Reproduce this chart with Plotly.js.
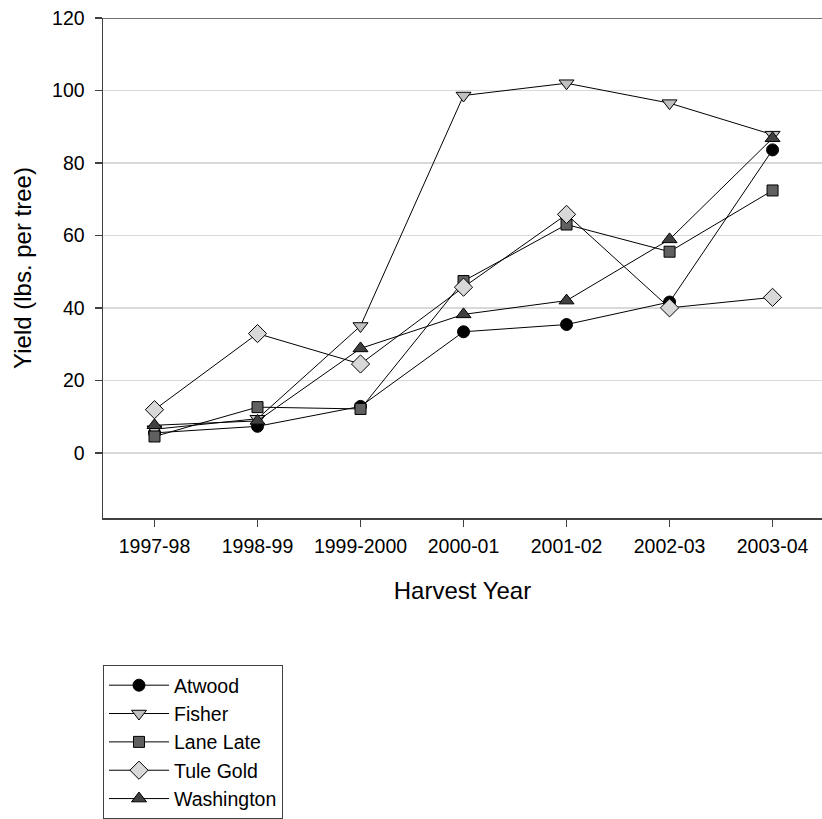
<!DOCTYPE html>
<html>
<head>
<meta charset="utf-8">
<script src="https://cdn.plot.ly/plotly-3.0.1.min.js"></script>
<style>html,body{margin:0;padding:0;background:#fff;}#chart{width:822px;height:819px;}</style>
</head>
<body>
<div id="chart"></div>
<script>
const harvestYears = ["1997-98", "1998-99", "1999-2000", "2000-01", "2001-02", "2002-03", "2003-04"];
const atwood     = [5.5, 7.3, 12.8, 33.4, 35.4, 41.6, 83.6];
const fisher     = [6.5, 9.4, 35.0, 98.6, 102.0, 96.5, 87.8];
const laneLate   = [4.5, 12.6, 12.1, 47.4, 63.0, 55.5, 72.4];
const tuleGold   = [11.9, 32.9, 24.5, 45.7, 65.8, 40.0, 42.9];
const washington = [7.6, 8.8, 28.8, 38.2, 42.0, 58.9, 86.8];
const yTicks = [0, 20, 40, 60, 80, 100, 120];

function series(name, y, symbol, fill, size) {
  return {
    type: "scatter", mode: "lines+markers", name: name,
    x: harvestYears, y: y,
    line: {color: "#000000", width: 1},
    marker: {symbol: symbol, size: size, color: fill, line: {color: "#000000", width: 1}}
  };
}

const data = [
  series("Atwood", atwood, "circle", "#000000", 12),
  series("Fisher", fisher, "triangle-down", "#c0c0c0", 13),
  series("Lane Late", laneLate, "square", "#606060", 11),
  series("Tule Gold", tuleGold, "diamond", "#d8d8d8", 14),
  series("Washington", washington, "triangle-up", "#404040", 13)
];

const font = "Liberation Sans, Arial, Helvetica, sans-serif";
const layout = {
  width: 822, height: 819,
  margin: {l: 103, r: 0, t: 18, b: 297},
  paper_bgcolor: "#ffffff", plot_bgcolor: "#ffffff",
  font: {family: font, size: 19.5, color: "#000000"},
  showlegend: true,
  legend: {
    x: 0, xanchor: "left", y: -0.294, yanchor: "top",
    bordercolor: "#404040", borderwidth: 1,
    font: {family: font, size: 19.5, color: "#000000"},
    tracegroupgap: 0, itemwidth: 60
  },
  xaxis: {
    type: "category", range: [-0.5, 6.48],
    showline: true, linecolor: "#404040", linewidth: 1.5,
    ticks: "outside", ticklen: 7, tickcolor: "#404040", tickwidth: 1.5,
    ticklabelstandoff: 3,
    showgrid: false, zeroline: false,
    tickfont: {family: font, size: 19.5, color: "#000000"},
    title: {text: "Harvest Year", font: {family: font, size: 24, color: "#000000"}, standoff: 26},
    automargin: false
  },
  yaxis: {
    range: [-18, 120], tickvals: yTicks,
    showline: true, linecolor: "#404040", linewidth: 1.5,
    ticks: "outside", ticklen: 7, tickcolor: "#404040", tickwidth: 1.5,
    ticklabelstandoff: 6,
    showgrid: true, gridcolor: "#d9d9d9", gridwidth: 1.5, zeroline: false,
    tickfont: {family: font, size: 19.5, color: "#000000"},
    title: {text: "Yield (lbs. per tree)", font: {family: font, size: 24, color: "#000000"}, standoff: 13},
    automargin: false
  },
  shapes: [{
    type: "line", xref: "paper", yref: "y", x0: 0, x1: 1, y0: 120, y1: 120,
    line: {color: "#707070", width: 2}
  }]
};

Plotly.newPlot("chart", data, layout, {staticPlot: true, displayModeBar: false});
</script>
</body>
</html>
